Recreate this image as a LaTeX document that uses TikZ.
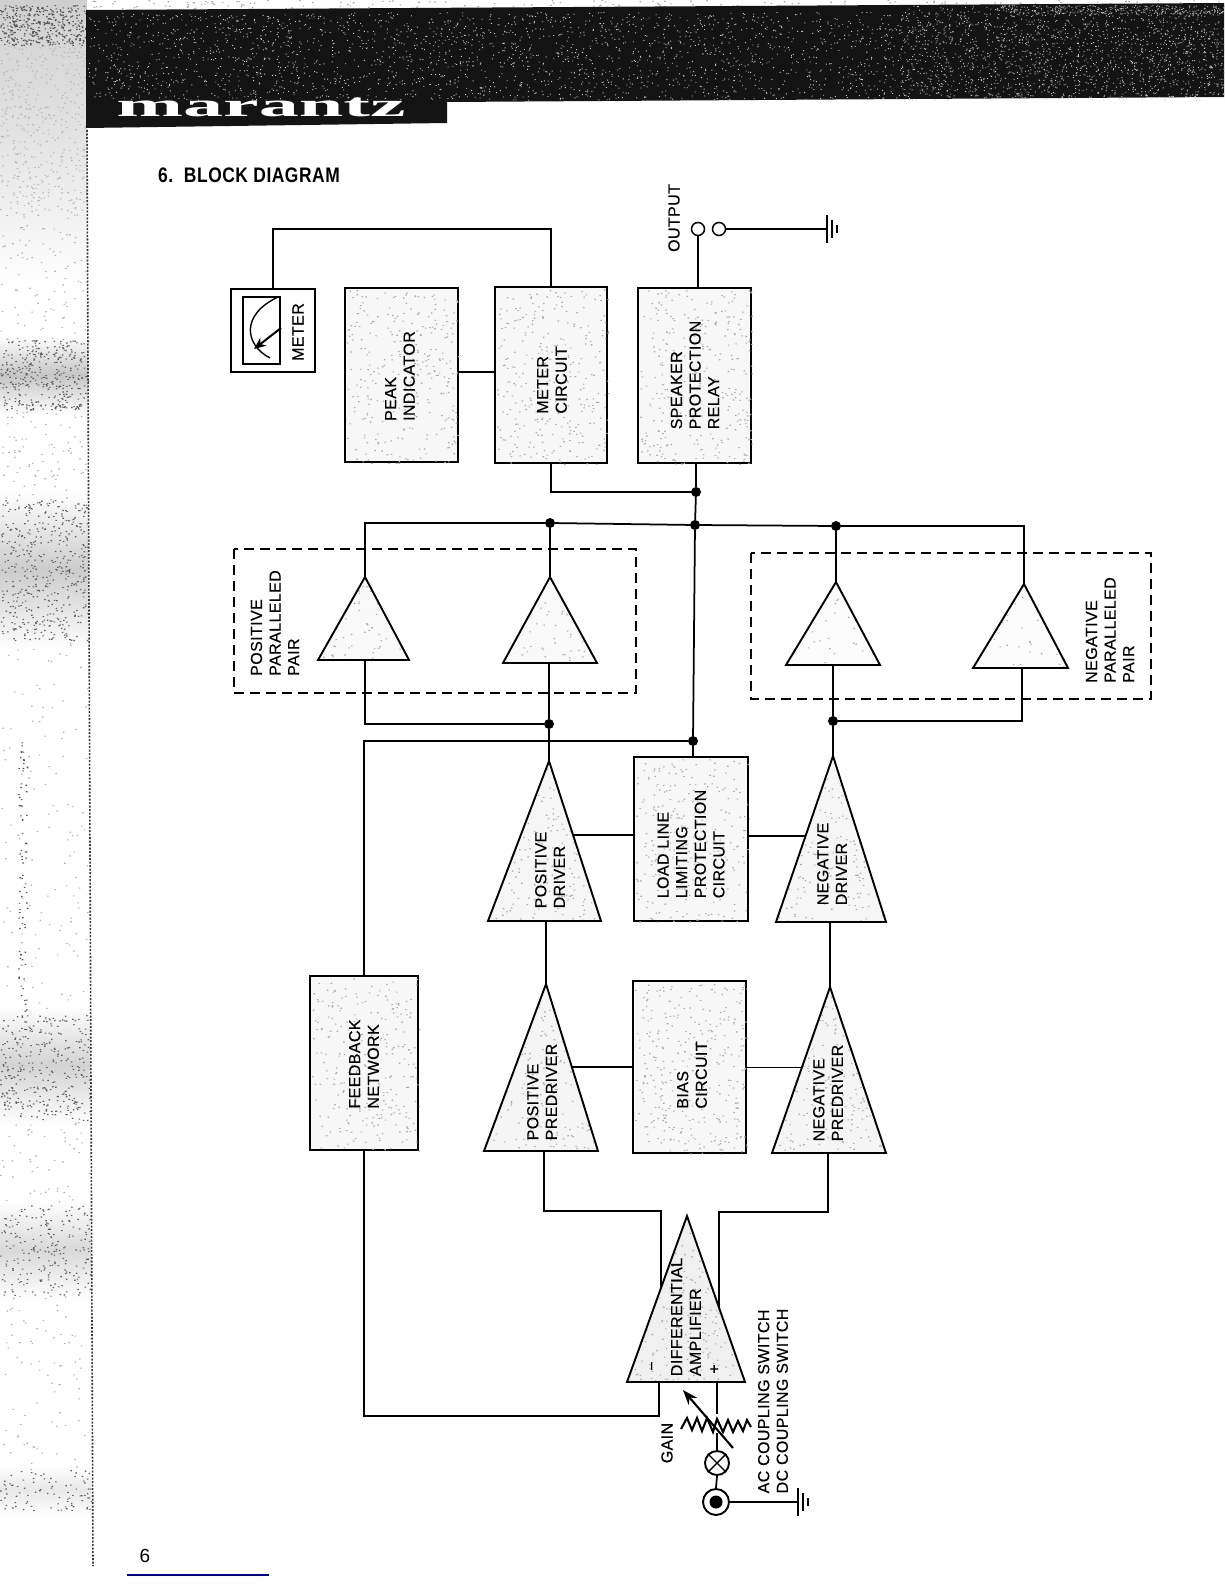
\documentclass[tikz,border=0pt]{standalone}
\usepackage{fontspec}
\usepackage{graphicx}
\setmainfont{Liberation Sans}
\newfontfamily\logoserif{Liberation Serif}
\newfontfamily\lblfont[FakeBold=0.35,LetterSpace=2.5]{Liberation Sans}
\newfontfamily\titlefont[LetterSpace=3]{Liberation Sans}
\usetikzlibrary{calc,arrows.meta}
\tikzset{
  conn/.style={line width=1.75pt,line join=miter},
  blockstyle/.style={draw=black,line width=2pt,fill=gray!6,inner sep=0pt,outer sep=0pt},
  tristyle/.style={draw=black,line width=1.9pt,line join=miter},
  lbl/.style={rotate=90,align=left,inner sep=0pt,font=\lblfont\fontsize{16}{18.6}\selectfont,text=black},
  dot/.style={circle,fill=black,inner sep=0pt,minimum size=10pt},
  term/.style={circle,draw=black,line width=1.5pt,fill=white,inner sep=0pt,minimum size=13pt},
  dashbox/.style={draw=black,line width=1.5pt,dash pattern=on 10pt off 6pt},
}
\newcommand{\speck}[6]{\fill[#6] foreach \i in {1,...,#5} {({#1+rnd*(#2-#1)},{#3+rnd*(#4-#3)}) rectangle ++(1.5,1.1)};}
\newcommand{\fine}[6]{\fill[#6] foreach \i in {1,...,#5} {({#1+rnd*(#2-#1)},{#3+rnd*(#4-#3)}) rectangle ++(1,.9)};}
\newcommand{\blockat}[6]{%
  \pgfmathsetmacro\bw{#4-#2}\pgfmathsetmacro\bh{#5-#3}%
  \pgfmathsetmacro\bx{(#2+#4)/2}\pgfmathsetmacro\by{(#3+#5)/2}%
  \node[blockstyle,minimum width=\bw pt,minimum height=\bh pt] (#1) at (\bx,\by) {};
  \speck{#2+2}{#4-3}{#3+2}{#5-3}{#6}{gray!65}
}
% name, apex x, apex y, left x, right x, base y, base tap x, specks, fill
\newcommand{\tri}[9]{%
  \coordinate (#1-a) at (#2,#3);
  \coordinate (#1-l) at (#4,#6);
  \coordinate (#1-r) at (#5,#6);
  \coordinate (#1-b) at (#7,#6);
  \begin{scope}
    \clip (#1-a) -- (#1-l) -- (#1-r) -- cycle;
    \fill[gray!#9] (#1-a) -- (#1-l) -- (#1-r) -- cycle;
    \speck{#4}{#5}{#3}{#6}{#8}{gray!65}
  \end{scope}
  \draw[tristyle] (#1-a) -- (#1-l) -- (#1-r) -- cycle;
}
\newcommand{\gnd}[2]{%
  \draw[line width=1.7pt] ($(#1,#2)+(0,-14)$) -- ($(#1,#2)+(0,14)$);
  \draw[line width=1.5pt] ($(#1,#2)+(5,-9)$) -- ($(#1,#2)+(5,9)$);
  \draw[line width=1.8pt] ($(#1,#2)+(10,-4)$) -- ($(#1,#2)+(10,4)$);
}
\begin{document}
\begin{tikzpicture}[x=1pt,y=-1pt]
\useasboundingbox (0,0) rectangle (1224,1584);
\fill[white] (0,0) rectangle (1224,1584);
\pgfmathsetseed{7}
% --- scanned left margin
\shade[top color=gray!38,bottom color=gray!30] (0,0) rectangle (87,60);
\shade[top color=gray!30,bottom color=gray!22] (0,60) rectangle (87,135);
\shade[top color=gray!22,bottom color=white] (0,135) rectangle (87,290);
\shade[top color=white,bottom color=white,middle color=gray!45] (0,335) rectangle (88,415);
\shade[top color=white,bottom color=white,middle color=gray!40] (0,490) rectangle (88,650);
\shade[top color=white,bottom color=white,middle color=gray!35] (0,1005) rectangle (90,1125);
\shade[top color=white,bottom color=white,middle color=gray!30] (0,1200) rectangle (91,1300);
\shade[top color=white,bottom color=white,middle color=gray!18] (0,1465) rectangle (91,1515);
\speck{0}{86}{5}{45}{400}{gray!70!black}
\speck{0}{86}{45}{210}{400}{gray!55}
\speck{0}{88}{210}{340}{100}{gray!60}
\speck{0}{88}{340}{410}{350}{gray!75!black}
\speck{0}{88}{410}{500}{80}{gray!60}
\speck{0}{88}{500}{640}{450}{gray!75!black}
\speck{0}{88}{640}{1010}{120}{gray!60}
\speck{18}{27}{740}{1015}{80}{gray!65!black}
\speck{0}{90}{1015}{1120}{320}{gray!75!black}
\speck{0}{90}{1120}{1205}{50}{gray!60}
\speck{0}{91}{1205}{1295}{220}{gray!75!black}
\speck{0}{91}{1295}{1470}{80}{gray!60}
\speck{0}{91}{1470}{1510}{90}{gray!75!black}
\speck{87}{1224}{0}{9}{200}{gray!70}
\draw[gray!45!black,line width=1.6pt,dash pattern=on 2pt off 1.5pt] (87,130) -- (93,1566);
% --- header band
\fill[black!92] (86,10) -- (1224,3) -- (1224,97) -- (447,102) -- (447,123) -- (86,128) -- cycle;
\fine{88}{1224}{12}{100}{3000}{gray!45}
\fine{900}{1224}{5}{97}{1100}{gray!60}
\fine{1000}{1224}{5}{14}{300}{gray!70}
\node[inner sep=0pt,text=white,anchor=center] (logo) at (261,107) {\scalebox{2.43}[1]{\fontsize{33}{33}\logoserif\bfseries marantz}};
% --- title and page number
\node[anchor=west,inner sep=0pt] (title) at (158,175) {\scalebox{.83}[1]{\titlefont\bfseries\fontsize{21}{21}\selectfont 6.\ \ BLOCK DIAGRAM}};
\node[inner sep=0pt] (pageno) at (145,1556) {\fontsize{19}{19}\selectfont 6};
\coordinate (bl1) at (127,1575);
\coordinate (bl2) at (269,1575);
\draw[color={rgb,255:red,0;green,0;blue,160},line width=1.1pt] (bl1) -- (bl2);
% --- dashed groups
\draw[dashbox] (234,549) rectangle (636,693);
\draw[dashbox] (751,553) rectangle (1151,699);
% --- blocks
\node[draw=black,line width=1.5pt,fill=white,inner sep=0pt,outer sep=0pt,minimum width=84pt,minimum height=83pt] (meter) at (273,330.5) {};
\blockat{peak}{344.5}{288}{457.5}{462}{300}
\blockat{mc}{495}{287}{607}{463}{300}
\blockat{spk}{638}{288}{751}{463}{300}
\blockat{load}{634}{757}{748}{921}{260}
\blockat{bias}{633}{981}{746}{1153}{320}
\blockat{fb}{310}{976}{418}{1150}{260}
% --- triangles
\tri{t1}{365}{577}{318}{409}{660}{365}{70}{5}
\tri{t2}{550}{577}{503}{597}{663}{549}{70}{5}
\tri{t3}{836}{582}{786}{880}{665}{833}{45}{3}
\tri{t4}{1024}{584}{973}{1068}{668}{1022}{40}{3}
\tri{t5}{549}{761}{488}{601}{921}{547}{240}{7}
\tri{t6}{833}{756}{776}{886}{922}{831}{220}{7}
\tri{t7}{546}{984}{484}{598}{1151}{544}{250}{8}
\tri{t8}{830}{987}{772}{886}{1153}{828}{250}{8}
\tri{d}{687}{1216}{627}{745}{1382}{717}{320}{12}
% --- meter dial
\draw[line width=1.5pt] (243,297) rectangle (280,364);
\coordinate (arcA) at (278,297);
\coordinate (arcB) at (270,358);
\draw[line width=1.4pt] (arcA) .. controls (240,315) and (245,345) .. (arcB);
\coordinate (ndA) at (281,328);
\coordinate (ndB) at (254,349);
\draw[line width=2pt,-{Stealth[length=12pt,width=10pt]}] (ndA) -- (ndB);
% --- junctions and terminals
\node[dot] (j1) at (696,492) {};
\node[dot] (j2) at (695,525) {};
\node[dot] (jp) at (550,523) {};
\node[dot] (jn) at (836,526) {};
\node[dot] (jlp) at (549,724) {};
\node[dot] (jln) at (833,721) {};
\node[dot] (jf) at (693,741) {};
\node[term] (o1) at (698,229) {};
\node[term] (o2) at (719,229) {};
\coordinate (g1) at (827,229);
\coordinate (topc) at (400,229);
% --- connectors, upper part
\draw[conn] (meter.north) -- (meter.north |- topc) -| (mc.north);
\draw[conn] (peak.east |- 0,372) -- (mc.west |- 0,372);
\draw[conn] (o1) -- (o1 |- spk.north);
\draw[conn] (o2) -- (g1);
\draw[conn] (j1 |- spk.south) -- (j1);
\draw[conn] (mc.south) |- (j1);
\draw[conn] (j1) -- (j2);
\draw[conn] (t1-a) |- (jp);
\draw[conn] (jp) -- (j2) -- (jn);
\draw[conn] (jn) -| (t4-a);
\draw[conn] (jp) -- (t2-a);
\draw[conn] (jn) -- (t3-a);
\draw[conn] (j2) -- (jf);
\draw[conn] (jf) -- (jf |- load.north);
\draw[conn] (t1-b) |- (jlp);
\draw[conn] (t2-b) -- (jlp);
\draw[conn] (jlp) -- (t5-a);
\draw[conn] (t3-b) -- (jln);
\draw[conn] (t4-b) |- (jln);
\draw[conn] (jln) -- (t6-a);
\draw[conn] (fb.north) |- (jf);
% --- driver stages
\coordinate (p5) at ($(t5-a)!.4625!(t5-r)$);
\coordinate (p6) at ($(t6-a)!.4819!(t6-l)$);
\coordinate (p7) at ($(t7-a)!.4970!(t7-r)$);
\coordinate (p8) at ($(t8-a)!.4850!(t8-l)$);
\draw[conn] (p5) -- (p5 -| load.west);
\draw[conn] (load.east |- p6) -- (p6);
\draw[conn] (p7) -- (p7 -| bias.west);
\draw[conn] (bias.east |- p8) -- (p8);
\draw[conn] (t5-b) -- (t7-a |- t5-b) -- (t7-a);
\draw[conn] (t6-b) -- (t8-a |- t6-b) -- (t8-a);
% --- differential stage
\coordinate (dL) at ($(d-a)!.433!(d-l)$);
\coordinate (dR) at ($(d-a)!.55!(d-r)$);
\coordinate (dlt) at (661,1211);
\coordinate (drt) at (719,1212);
\draw[conn] (t7-b) |- (dlt) -- (dlt |- dL);
\draw[conn] (t8-b) |- (drt) -- (drt |- dR);
\coordinate (fbm) at (659,1382);
\coordinate (fbl) at (659,1416);
\draw[conn] (fb.south) |- (fbl) -- (fbm);
% --- gain, lamp and input jack
\node[circle,draw=black,line width=1.9pt,fill=white,inner sep=0pt,minimum size=24pt] (lamp) at (717,1463) {};
\draw[line width=1.4pt] (lamp.45) -- (lamp.225) (lamp.135) -- (lamp.315);
\node[circle,draw=black,line width=1.9pt,fill=white,inner sep=0pt,minimum size=26pt] (jack) at (716,1502) {};
\node[circle,fill=black,inner sep=0pt,minimum size=13pt] (jackc) at (716,1502) {};
\coordinate (g2) at (798,1502);
\coordinate (dplus) at (717,1382);
\coordinate (rtap) at (717,1414);
\coordinate (wip) at (717,1433);
\draw[conn] (dplus) -- (rtap);
\draw[conn] (wip) -- (lamp.north);
\draw[conn] (lamp.south) -- (jack.north);
\draw[conn] (jack.east) -- (g2);
\draw[line width=2.1pt,line join=miter] (681,1429) -- (687,1418) -- (692,1430) -- (697,1418) -- (702,1431) -- (707,1418) -- (713,1432) -- (717,1419) -- (723,1432) -- (728,1420) -- (733,1432) -- (738,1421) -- (743,1431) -- (747,1420) -- (751,1427);
\coordinate (arT) at (733,1448);
\coordinate (arH) at (683,1390);
\draw[line width=2.1pt,-{Stealth[length=15pt,width=11pt]}] (arT) -- (arH);
\gnd{827}{229}
\gnd{798}{1502}
% --- labels
\node[lbl] (tmeter) at (298,332) {METER};
\node[lbl] (tpeak) at (400,376) {PEAK\\INDICATOR};
\node[lbl] (tmc) at (552,380) {METER\\CIRCUIT};
\node[lbl] (tspk) at (695,375) {SPEAKER\\PROTECTION\\RELAY};
\node[lbl] (tout) at (674,218) {OUTPUT};
\node[lbl] (tpp) at (275,623) {POSITIVE\\PARALLELED\\PAIR};
\node[lbl] (tnp) at (1110,630) {NEGATIVE\\PARALLELED\\PAIR};
\node[lbl] (tpd) at (550,870) {POSITIVE\\DRIVER};
\node[lbl] (tnd) at (832,864) {NEGATIVE\\DRIVER};
\node[lbl] (tll) at (691,844) {LOAD LINE\\LIMITING\\PROTECTION\\CIRCUIT};
\node[lbl] (tppd) at (542,1092) {POSITIVE\\PREDRIVER};
\node[lbl] (tbias) at (692,1075) {BIAS\\CIRCUIT};
\node[lbl] (tnpd) at (828,1093) {NEGATIVE\\PREDRIVER};
\node[lbl] (tfb) at (364,1064) {FEEDBACK\\NETWORK};
\node[lbl] (tdiff) at (686,1317) {DIFFERENTIAL\\AMPLIFIER};
\node[lbl] (tminus) at (654,1366) {−};
\node[lbl] (tplus) at (715,1369) {+};
\node[lbl] (tgain) at (667,1443) {GAIN};
\node[lbl] (tsw) at (773,1401) {AC COUPLING SWITCH\\DC COUPLING SWITCH};
\end{tikzpicture}
\end{document}
